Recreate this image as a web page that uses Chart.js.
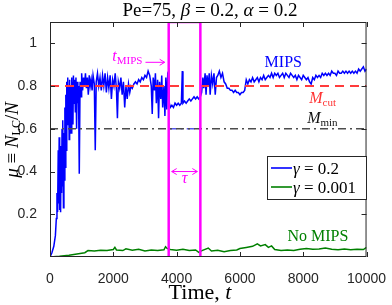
<!DOCTYPE html>
<html>
<head>
<meta charset="utf-8">
<script src="https://cdn.jsdelivr.net/npm/chart.js@4"></script>
<style>
  html, body { margin: 0; padding: 0; background: #fff; }
  #wrap { width: 392px; height: 305px; }
</style>
</head>
<body>
<div id="wrap"><canvas id="muChart" width="392" height="305"></canvas></div>
<script>
// ---- data ----
const tBlue = [0,60,120,170,200,220,240,260,275,290,305,320,335,350,365,380,395,410,425,440,455,470,485,500,515,530,545,560,575,590,605,620,635,650,665,680,695,710,725,740,760,780,800,820,840,860,880,900,925,950,980,1000,1030,1060,1090,1120,1150,1180,1210,1240,1270,1300,1330,1360,1400,1430,1460,1500,1540,1580,1620,1660,1700,1740,1780,1820,1860,1900,1940,1980,2020,2060,2100,2130,2160,2200,2240,2280,2320,2360,2400,2440,2480,2520,2560,2600,2650,2700,2750,2800,2850,2900,2950,3000,3050,3100,3150,3200,3230,3260,3300,3330,3360,3400,3430,3460,3500,3530,3560,3600,3630,3660,3690,3720,3750,3770,3800,3850,3900,3950,4000,4050,4100,4150,4180,4200,4250,4300,4350,4400,4450,4500,4550,4600,4650,4700,4750,4790,4830,4860,4900,4930,4960,5000,5030,5060,5100,5140,5180,5220,5260,5300,5350,5400,5450,5500,5550,5600,5650,5700,5750,5800,5850,5900,5950,6000,6050,6100,6150,6200,6250,6300,6350,6400,6450,6500,6550,6600,6650,6700,6750,6800,6850,6900,6950,7000,7050,7100,7150,7200,7250,7300,7350,7400,7450,7500,7550,7600,7650,7700,7750,7800,7850,7900,7950,8000,8050,8100,8150,8200,8250,8300,8350,8400,8450,8500,8550,8600,8650,8700,8750,8800,8850,8900,8950,9000,9050,9100,9150,9200,9250,9300,9350,9400,9450,9500,9550,9600,9650,9700,9750,9800,9850,9900,9950,10000];
const muBlue = [0,0.02,0.05,0.10,0.18,0.30,0.21,0.50,0.25,0.56,0.22,0.45,0.21,0.52,0.30,0.60,0.33,0.64,0.23,0.58,0.36,0.70,0.42,0.76,0.50,0.82,0.62,0.84,0.68,0.80,0.55,0.83,0.66,0.80,0.58,0.84,0.70,0.82,0.62,0.85,0.72,0.83,0.68,0.84,0.60,0.82,0.72,0.80,0.39,0.82,0.75,0.86,0.78,0.84,0.80,0.86,0.79,0.84,0.76,0.85,0.80,0.83,0.78,0.85,0.81,0.50,0.82,0.86,0.80,0.84,0.78,0.85,0.80,0.86,0.77,0.84,0.79,0.85,0.74,0.83,0.80,0.86,0.78,0.65,0.82,0.79,0.84,0.76,0.82,0.70,0.80,0.74,0.81,0.77,0.80,0.79,0.81,0.82,0.81,0.83,0.82,0.84,0.83,0.85,0.84,0.87,0.85,0.80,0.67,0.84,0.78,0.86,0.72,0.83,0.65,0.82,0.74,0.85,0.70,0.80,0.66,0.84,0.69,0.86,0.87,0.72,0.70,0.71,0.70,0.72,0.71,0.72,0.71,0.72,0.87,0.72,0.73,0.72,0.73,0.74,0.73,0.74,0.75,0.74,0.75,0.74,0.75,0.77,0.84,0.79,0.86,0.76,0.85,0.80,0.86,0.76,0.85,0.81,0.86,0.76,0.84,0.85,0.87,0.84,0.86,0.82,0.81,0.79,0.79,0.78,0.78,0.77,0.78,0.77,0.77,0.76,0.77,0.77,0.78,0.83,0.81,0.83,0.82,0.84,0.82,0.83,0.84,0.82,0.84,0.83,0.85,0.83,0.84,0.85,0.84,0.86,0.84,0.86,0.85,0.86,0.84,0.85,0.86,0.84,0.86,0.85,0.84,0.86,0.85,0.84,0.85,0.83,0.85,0.84,0.83,0.85,0.84,0.83,0.84,0.82,0.81,0.84,0.83,0.85,0.84,0.85,0.84,0.86,0.85,0.86,0.85,0.86,0.85,0.87,0.86,0.86,0.85,0.87,0.86,0.86,0.87,0.86,0.87,0.86,0.87,0.86,0.87,0.86,0.87,0.86,0.88,0.87,0.88,0.89,0.87,0.88];

const tGreen = [0,300,600,900,1100,1200,1400,1600,1800,2000,2050,2100,2300,2400,2600,2800,3000,3200,3400,3600,3650,3700,3800,4000,4200,4400,4600,4700,4800,5000,5100,5300,5500,5700,5900,6000,6200,6400,6550,6650,6800,6900,7000,7100,7300,7500,7700,7900,8100,8300,8500,8700,8900,9100,9300,9500,9700,9900,10000];
const muGreen = [0,0.003,0.008,0.015,0.02,0.03,0.028,0.032,0.03,0.035,0.045,0.033,0.03,0.038,0.032,0.036,0.028,0.033,0.03,0.034,0.048,0.04,0.035,0.032,0.036,0.03,0.033,0.022,0.03,0.042,0.028,0.031,0.025,0.03,0.033,0.04,0.045,0.05,0.062,0.052,0.058,0.045,0.052,0.035,0.03,0.033,0.03,0.036,0.04,0.036,0.038,0.042,0.036,0.034,0.038,0.034,0.036,0.035,0.045];

const mCut = 0.8;
const mMin = 0.6;
const tMips = 3750;     // rectangle left edge
const tEnd = 4750;      // rectangle right edge (tMips + tau)
const xTicks = [0, 2000, 4000, 6000, 8000, 10000];
const yTicks = [0.2, 0.4, 0.6, 0.8, 1];
const yMax = 1.1;

const SERIF = '"Liberation Serif", "DejaVu Serif", serif';
const SANS = '"Liberation Sans", Arial, sans-serif';
const INK = '#262626';

function pts(xs, ys) { return xs.map((x, i) => ({ x: x, y: ys[i] })); }

// draw a row of text pieces: [text, font, dy]
function runs(ctx, x, y, parts, align) {
  let w = 0;
  parts.forEach(p => { ctx.font = p[1]; w += ctx.measureText(p[0]).width; });
  let cx = align === 'center' ? x - w / 2 : x;
  parts.forEach(p => {
    ctx.font = p[1];
    ctx.fillText(p[0], cx, y + (p[2] || 0));
    cx += ctx.measureText(p[0]).width;
  });
  return w;
}

function arrowHead(ctx, x, y, dir) {
  ctx.beginPath();
  ctx.moveTo(x, y);
  ctx.lineTo(x - dir * 5, y - 3);
  ctx.moveTo(x, y);
  ctx.lineTo(x - dir * 5, y + 3);
  ctx.stroke();
}

const decor = {
  id: 'decor',
  afterDraw(chart) {
    const ctx = chart.ctx;
    const a = chart.chartArea;
    const xs = chart.scales.x, ys = chart.scales.y;
    ctx.save();

    // frame + inward ticks
    ctx.strokeStyle = INK;
    ctx.lineWidth = 1;
    ctx.strokeRect(a.left + 0.5, a.top + 0.5, a.right - a.left - 1, a.bottom - a.top - 1);
    ctx.beginPath();
    xTicks.forEach(v => {
      const px = Math.round(xs.getPixelForValue(v)) + 0.5;
      ctx.moveTo(px, a.bottom); ctx.lineTo(px, a.bottom - 5);
      ctx.moveTo(px, a.top); ctx.lineTo(px, a.top + 5);
    });
    yTicks.forEach(v => {
      const py = Math.round(ys.getPixelForValue(v)) + 0.5;
      ctx.moveTo(a.left, py); ctx.lineTo(a.left + 5, py);
      ctx.moveTo(a.right, py); ctx.lineTo(a.right - 5, py);
    });
    ctx.stroke();

    ctx.textBaseline = 'alphabetic';
    ctx.textAlign = 'left';

    // title
    ctx.fillStyle = '#000';
    const f19 = '19px ' + SERIF, i19 = 'italic 19px ' + SERIF;
    runs(ctx, 210, 16, [['Pe=75, ', f19], ['\u03b2', i19], [' = 0.2, ', f19], ['\u03b1', i19], [' = 0.2', f19]], 'center');

    // x title
    const f22 = '22px ' + SERIF, i22 = 'italic 22px ' + SERIF;
    runs(ctx, 200, 299, [['Time, ', f22], ['t', i22]], 'center');

    // y title (rotated)
    const fy = '19px ' + SERIF, iy = 'italic 19px ' + SERIF;
    ctx.save();
    ctx.translate(18, 140);
    ctx.rotate(-Math.PI / 2);
    runs(ctx, 0, 0, [['\u03bc', iy], [' \u2261 ', fy], ['N', iy], ['LC', '12px ' + SERIF, 2], ['/', fy], ['N', iy]], 'center');
    ctx.restore();

    const X = v => xs.getPixelForValue(v), Y = v => ys.getPixelForValue(v);
    const f16 = '16px ' + SERIF, i16 = 'italic 16px ' + SERIF, s11 = '11px ' + SERIF;
    const f17 = '17px ' + SERIF, i17 = 'italic 17px ' + SERIF;

    // MIPS / No MIPS labels
    ctx.fillStyle = '#0000ff';
    runs(ctx, X(6780), Y(0.888), [['MIPS', f16]]);
    ctx.fillStyle = '#008000';
    runs(ctx, X(7500), Y(0.074), [['No MIPS', f16]]);

    // threshold labels
    ctx.fillStyle = '#ff3333';
    runs(ctx, X(8190), Y(0.721), [['M', i16], ['cut', s11, 3]]);
    ctx.fillStyle = '#111';
    runs(ctx, X(8125), Y(0.625), [['M', i16], ['min', s11, 3]]);

    // t_MIPS with arrow
    ctx.fillStyle = '#ff00ff';
    ctx.strokeStyle = '#ff00ff';
    ctx.lineWidth = 1;
    const w = runs(ctx, X(1970), Y(0.916), [['t', i16], ['MIPS', s11, 3]]);
    const ay = Y(0.916) + 1;
    const ax0 = X(1970) + w + 3, ax1 = X(tMips) - 4;
    ctx.beginPath(); ctx.moveTo(ax0, ay); ctx.lineTo(ax1, ay); ctx.stroke();
    arrowHead(ctx, ax1, ay, 1);

    // tau double arrow
    const ty = Y(0.40);
    const tx0 = X(tMips) + 3, tx1 = X(tEnd) - 3;
    ctx.beginPath(); ctx.moveTo(tx0, ty); ctx.lineTo(tx1, ty); ctx.stroke();
    arrowHead(ctx, tx1, ty, 1);
    arrowHead(ctx, tx0, ty, -1);
    runs(ctx, (tx0 + tx1) / 2, Y(0.345), [['\u03c4', i16]], 'center');

    // legend box
    const lx = 267, ly = 156, lw = 99, lh = 43;
    ctx.fillStyle = '#fff';
    ctx.fillRect(lx, ly, lw, lh);
    ctx.strokeStyle = INK;
    ctx.strokeRect(lx + 0.5, ly + 0.5, lw, lh);
    const rows = [['#0000ff', '0.2'], ['#008000', '0.001']];
    rows.forEach((r, i) => {
      const yy = ly + 12 + i * 19;
      ctx.strokeStyle = r[0];
      ctx.lineWidth = 1.6;
      ctx.beginPath(); ctx.moveTo(lx + 4, yy); ctx.lineTo(lx + 25, yy); ctx.stroke();
      ctx.fillStyle = '#000';
      runs(ctx, lx + 26, yy + 6, [['\u03b3', i17], [' = ' + r[1], f17]]);
    });

    ctx.restore();
  }
};

const ctx = document.getElementById('muChart');
new Chart(ctx, {
  type: 'line',
  data: {
    datasets: [
      { data: [{x: tMips, y: 0}, {x: tMips, y: yMax}, {x: tEnd, y: yMax}, {x: tEnd, y: 0}],
        borderColor: '#ff00ff', borderWidth: 2.5, order: 0 },
      { data: [{x: 0, y: mCut}, {x: 10000, y: mCut}],
        borderColor: '#ff3b3b', borderWidth: 2, borderDash: [9, 6], order: 1 },
      { data: [{x: 0, y: mMin}, {x: 10000, y: mMin}],
        borderColor: '#4d4d4d', borderWidth: 1.6, borderDash: [8, 4, 2, 4], order: 1 },
      { data: [{x: tMips, y: mMin}, {x: tEnd, y: mMin}],
        borderColor: '#5555ee', borderWidth: 1.6, borderDash: [8, 4, 2, 4], order: 1 },
      { label: 'gamma 0.2', data: pts(tBlue, muBlue),
        borderColor: '#0000ff', borderWidth: 1.5, order: 2 },
      { label: 'gamma 0.001', data: pts(tGreen, muGreen),
        borderColor: '#008000', borderWidth: 1.5, order: 3 }
    ]
  },
  options: {
    responsive: false,
    animation: false,
    events: [],
    layout: { padding: { left: 0, right: 22, top: 22, bottom: 0 } },
    elements: { point: { radius: 0 }, line: { tension: 0, fill: false } },
    plugins: { legend: { display: false }, tooltip: { enabled: false }, title: { display: false } },
    scales: {
      x: {
        type: 'linear', min: 0, max: 10000,
        grid: { display: false }, border: { display: false },
        afterBuildTicks: s => { s.ticks = xTicks.map(v => ({ value: v })); },
        afterFit: s => { s.height = 48; },
        ticks: { color: INK, font: { family: SANS, size: 14 }, padding: 6, maxRotation: 0,
                 callback: v => String(v) }
      },
      y: {
        type: 'linear', min: 0, max: yMax,
        grid: { display: false }, border: { display: false },
        afterBuildTicks: s => { s.ticks = yTicks.map(v => ({ value: v })); },
        afterFit: s => { s.width = 50; },
        ticks: { color: INK, font: { family: SANS, size: 14 }, padding: 5,
                 callback: v => (v === 1 ? '1' : v.toFixed(1)) }
      }
    }
  },
  plugins: [decor]
});
</script>
</body>
</html>
